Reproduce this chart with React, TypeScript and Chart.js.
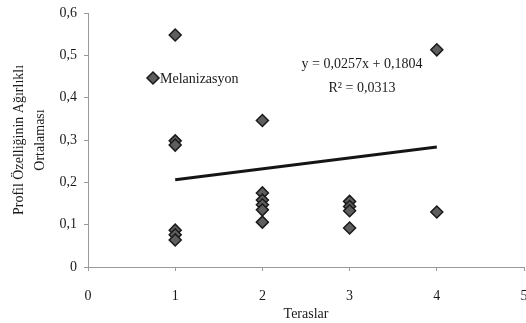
import React, { useEffect, useRef } from "react";
import { Chart, registerables } from "chart.js";

Chart.register(...registerables);

// Data
const terasX: number[] = [1, 1, 1, 1, 1, 1, 2, 2, 2, 2, 2, 2, 3, 3, 3, 3, 4, 4];
const melanizasyonY: number[] = [0.548, 0.298, 0.288, 0.087, 0.076, 0.064, 0.346, 0.175, 0.158, 0.147, 0.135, 0.106, 0.155, 0.143, 0.133, 0.092, 0.513, 0.13];
const trendX: number[] = [1, 4];
const trendY: number[] = [0.2061, 0.2832];
const seriesName = "Melanizasyon";
const equationText = "y = 0,0257x + 0,1804";
const r2Text = "R² = 0,0313";
const xTitle = "Teraslar";
const yTitle: string[] = ["Profil Özelliğinin Ağırlıklı", "Ortalaması"];

const FONT = "'Liberation Serif', 'DejaVu Serif', serif";

const overlayPlugin = {
  id: "overlay",
  afterDraw(chart: any) {
    const ctx = chart.ctx;
    const ca = chart.chartArea;
    ctx.save();
    // legend (inside the plot)
    const lx = ca.left + 65;
    const ly = 78;
    ctx.beginPath();
    ctx.moveTo(lx, ly - 6);
    ctx.lineTo(lx + 6, ly);
    ctx.lineTo(lx, ly + 6);
    ctx.lineTo(lx - 6, ly);
    ctx.closePath();
    ctx.fillStyle = "#5e5e5e";
    ctx.fill();
    ctx.lineWidth = 1.5;
    ctx.strokeStyle = "#1a1a1a";
    ctx.stroke();
    ctx.fillStyle = "#1a1a1a";
    ctx.font = `14px ${FONT}`;
    ctx.textAlign = "left";
    ctx.textBaseline = "middle";
    ctx.fillText(seriesName, lx + 7, ly + 1);
    // trendline equation
    ctx.textAlign = "center";
    ctx.fillText(equationText, 362, 64);
    ctx.fillText(r2Text, 362, 88);
    ctx.restore();
  },
};

function zeroPadding(scale: any) {
  scale.paddingLeft = 0;
  scale.paddingRight = 0;
  scale.paddingTop = 0;
  scale.paddingBottom = 0;
  if (scale._margins) {
    scale._margins.left = 0;
    scale._margins.right = 0;
    scale._margins.top = 0;
    scale._margins.bottom = 0;
  }
}

export default function App() {
  const ref = useRef<HTMLCanvasElement | null>(null);
  useEffect(() => {
    document.body.style.margin = "0";
    const pts = terasX.map((x, i) => ({ x, y: melanizasyonY[i] }));
    const trend = trendX.map((x, i) => ({ x, y: trendY[i] }));
    const chart = new Chart(ref.current as HTMLCanvasElement, {
      type: "scatter",
      data: {
        datasets: [
          {
            type: "line",
            label: "trend",
            data: trend,
            borderColor: "#151515",
            borderWidth: 3,
            pointRadius: 0,
            fill: false,
          } as any,
          {
            label: seriesName,
            data: pts,
            pointStyle: "rectRot",
            pointRadius: 6,
            backgroundColor: "#5e5e5e",
            borderColor: "#1a1a1a",
            borderWidth: 1.5,
          },
        ],
      },
      options: {
        animation: false,
        responsive: false,
        maintainAspectRatio: false,
        layout: { autoPadding: false, padding: { top: 13, right: 2, left: 0, bottom: 0 } },
        plugins: { legend: { display: false }, tooltip: { enabled: false } },
        scales: {
          x: {
            type: "linear",
            min: 0,
            max: 5,
            ticks: {
              stepSize: 1,
              color: "#1a1a1a",
              font: { family: FONT, size: 14 },
              padding: 17,
              maxRotation: 0,
            },
            grid: { display: true, drawOnChartArea: false, tickLength: 4, color: "#999" },
            border: { display: true, color: "#999", dash: [2, 3] },
            title: {
              display: true,
              text: xTitle,
              color: "#1a1a1a",
              font: { family: FONT, size: 14 },
              padding: { top: 0, bottom: 0 },
            },
            afterFit(scale: any) {
              scale.height = 56;
              zeroPadding(scale);
            },
          },
          y: {
            type: "linear",
            min: 0,
            max: 0.6,
            ticks: {
              stepSize: 0.1,
              color: "#1a1a1a",
              font: { family: FONT, size: 14 },
              padding: 7,
              callback: (v: any) => (Number(v) === 0 ? "0" : Number(v).toFixed(1).replace(".", ",")),
            },
            grid: { display: true, drawOnChartArea: false, tickLength: 4, color: "#999" },
            border: { display: true, color: "#999", dash: [3, 2] },
            title: {
              display: true,
              text: yTitle,
              color: "#1a1a1a",
              font: { family: FONT, size: 14, lineHeight: 1.55 },
              padding: { top: 8, bottom: 0 },
            },
            afterFit(scale: any) {
              scale.width = 88;
              zeroPadding(scale);
            },
          },
        },
      },
      plugins: [overlayPlugin],
    });
    return () => chart.destroy();
  }, []);
  return (
    <div style={{ position: "absolute", left: 0, top: 0, width: 526, height: 323, background: "#fff" }}>
      <canvas ref={ref} width={526} height={323} style={{ width: 526, height: 323 }} />
    </div>
  );
}
